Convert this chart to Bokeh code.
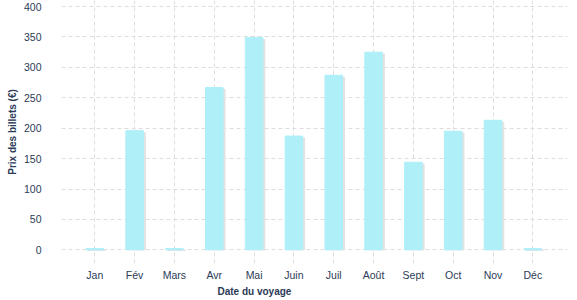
from bokeh.plotting import figure
from bokeh.models import Range1d, FixedTicker, Title
from bokeh.embed import file_html
from bokeh.resources import INLINE

months = ["Jan", "Fév", "Mars", "Avr", "Mai", "Juin", "Juil", "Août", "Sept", "Oct", "Nov", "Déc"]
prices = [2, 196, 2, 267, 349, 187, 287, 325, 144, 195, 213, 2]
y_ticks = [0, 50, 100, 150, 200, 250, 300, 350, 400]

xs = list(range(len(months)))

p = figure(frame_width=506, frame_height=263, output_backend="svg", toolbar_location=None,
           x_range=Range1d(-0.836, 11.87), y_range=Range1d(-22.5, 410),
           min_border_left=61, min_border_right=10, min_border_top=0, min_border_bottom=36)
p.outline_line_color = None
p.background_fill_color = "white"

# shadow
p.vbar(x=[x + 0.05 for x in xs], top=[v - 3 for v in prices], bottom=0, width=0.44,
       color="#e2e2e2")
p.vbar(x=xs, top=prices, bottom=0, width=0.44, color="#aeeff8")

text_col = "#2b3a57"
font = "Liberation Sans"

p.xaxis.ticker = FixedTicker(ticks=xs)
p.xaxis.major_label_overrides = {i: m for i, m in enumerate(months)}
p.yaxis.ticker = FixedTicker(ticks=y_ticks)

for ax in (p.xaxis, p.yaxis):
    ax.axis_line_color = None
    ax.major_tick_line_color = None
    ax.minor_tick_line_color = None
    ax.major_tick_in = 0
    ax.major_tick_out = 0
    ax.major_label_text_font = font
    ax.major_label_text_font_size = "10.5px"
    ax.major_label_text_color = text_col
    ax.axis_label_text_font = font
    ax.axis_label_text_font_size = "10px"
    ax.axis_label_text_font_style = "bold"
    ax.axis_label_text_color = text_col

p.xaxis.major_label_standoff = 5
p.yaxis.major_label_standoff = 20
p.yaxis.axis_label = "Prix des billets (€)"
p.yaxis.axis_label_standoff = 3

p.add_layout(Title(text="Date du voyage", align="left", offset=156,
                   text_font=font, text_font_size="10px", text_font_style="bold",
                   text_color=text_col, standoff=0), "below")

p.grid.grid_line_color = "#dddddd"
p.grid.grid_line_dash = "4 3"
p.grid.grid_line_width = 1
p.xgrid.ticker = FixedTicker(ticks=xs)

open("out.html", "w").write(file_html(p, INLINE))
